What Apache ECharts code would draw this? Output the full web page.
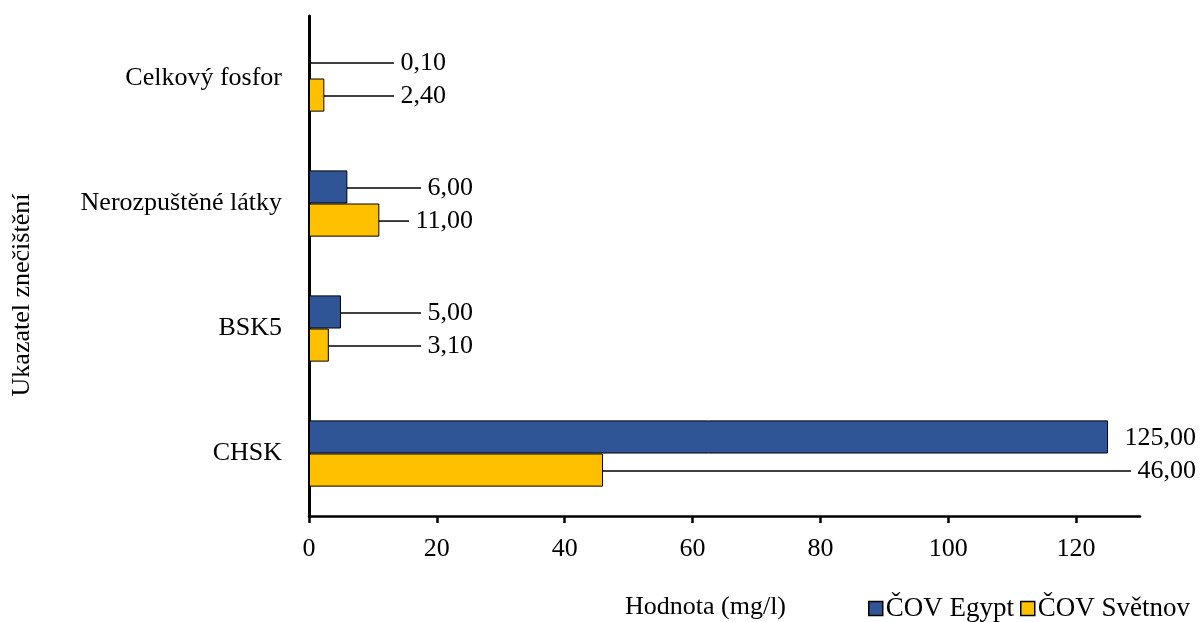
<!DOCTYPE html>
<html>
<head>
<meta charset="utf-8">
<script src="https://cdn.jsdelivr.net/npm/echarts@6/dist/echarts.min.js"></script>
<style>
html,body{margin:0;padding:0;background:#fff;}
#chart{width:1200px;height:622px;}
</style>
</head>
<body>
<div id="chart"></div>
<script>
// ---- data ----
const categories = ['Celkový fosfor', 'Nerozpuštěné látky', 'BSK5', 'CHSK'];
const seriesNames = ['ČOV Egypt', 'ČOV Světnov'];
const egypt = [0.10, 6.00, 5.00, 125.00];
const svetnov = [2.40, 11.00, 3.10, 46.00];
const xTicks = [0, 20, 40, 60, 80, 100, 120];
const xMax = 130;

// ---- styling ----
const FONT = 'Liberation Serif, Times New Roman, serif';
const FS = 26;
// right edge (px) of the value labels for each category row
const labelRight = [446, 473, 473, 1196];

const fmt = v => ' ' + v.toFixed(2).replace('.', ',');

const chart = echarts.init(document.getElementById('chart'), null, {renderer: 'canvas'});

function makeSeries(name, values, color, noLineIdx) {
  return {
    name: name,
    type: 'bar',
    barGap: '0%',
    barCategoryGap: '47%',
    itemStyle: {color: color, borderColor: '#000', borderWidth: 1},
    label: {
      show: true,
      position: 'right',
      fontFamily: FONT,
      fontSize: FS,
      color: '#000',
      formatter: p => fmt(p.value)
    },
    labelLine: {show: true, lineStyle: {color: '#000', width: 1.5}},
    labelLayout: function (p) {
      return {
        x: labelRight[p.dataIndex],
        y: p.rect.y + p.rect.height / 2 + 1,
        align: 'right',
        verticalAlign: 'middle'
      };
    },
    data: values.map((v, i) => {
      const d = {value: v};
      if (noLineIdx.indexOf(i) >= 0) d.labelLine = {show: false};
      return d;
    })
  };
}

const option = {
  animation: false,
  backgroundColor: '#fff',
  textStyle: {fontFamily: FONT, color: '#000'},
  grid: {left: 309, right: 60, top: 16, bottom: 106, containLabel: false, outerBoundsMode: 'none'},
  legend: {
    data: seriesNames,
    right: 10,
    top: 595,
    padding: 0,
    icon: 'rect',
    itemWidth: 14,
    itemHeight: 14,
    itemGap: 6,
    itemStyle: {borderColor: '#000', borderWidth: 1.5},
    textStyle: {fontFamily: FONT, fontSize: 27, color: '#000', padding: [0, 0, 0, -2]}
  },
  xAxis: {
    type: 'value',
    min: 0,
    max: xMax,
    name: 'Hodnota (mg/l)',
    nameLocation: 'middle',
    nameGap: 78,
    nameTextStyle: {fontFamily: FONT, fontSize: FS, color: '#000', padding: [0, 38, 0, 0]},
    axisLine: {show: true, lineStyle: {color: '#000', width: 2.5}},
    axisTick: {show: true, length: 7, lineStyle: {color: '#000', width: 2.5}, customValues: xTicks},
    axisLabel: {fontFamily: FONT, fontSize: FS, color: '#000', margin: 20, customValues: xTicks},
    splitLine: {show: false}
  },
  yAxis: {
    type: 'category',
    data: categories,
    inverse: true,
    name: 'Ukazatel znečištění',
    nameLocation: 'middle',
    nameRotate: 90,
    nameGap: 274,
    nameTextStyle: {fontFamily: FONT, fontSize: FS, color: '#000', padding: [0, 58, 0, 0]},
    axisLine: {show: true, lineStyle: {color: '#000', width: 3}},
    axisTick: {show: false},
    axisLabel: {fontFamily: FONT, fontSize: FS, color: '#000', margin: 27}
  },
  series: [
    makeSeries(seriesNames[0], egypt, '#2F5597', [3]),
    makeSeries(seriesNames[1], svetnov, '#FFC000', [])
  ]
};
chart.setOption(option);
</script>
</body>
</html>
